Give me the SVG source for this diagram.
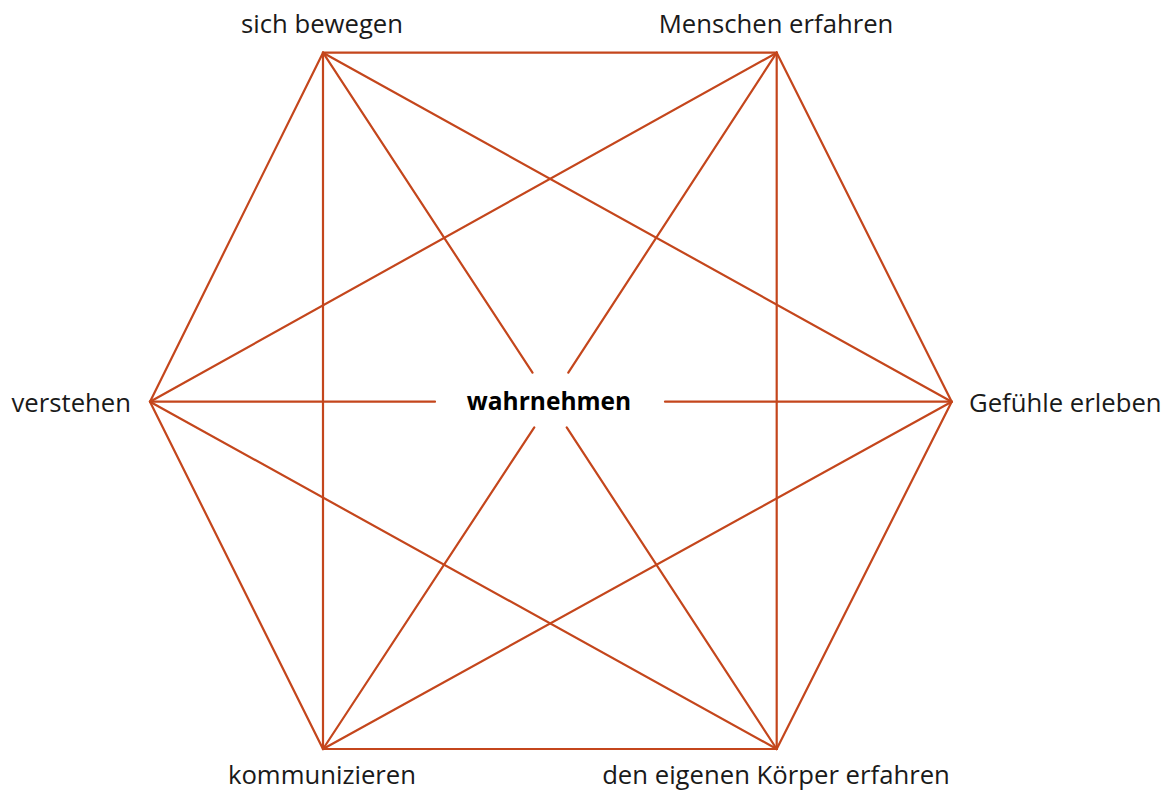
<svg xmlns="http://www.w3.org/2000/svg" width="1170" height="794" viewBox="0 0 1170 794">
<style>
.ln{stroke:#C4461C;stroke-width:2.2;fill:none;stroke-linecap:round}
.lb{font-family:"Open Sans","Liberation Sans",sans-serif;font-size:25.7px;fill:#1a1a1a}
.ctr{font-weight:bold;fill:#000;font-size:24.5px}
</style>
<rect width="1170" height="794" fill="#fff"/>
<g id="connectors">
<line class="ln" x1="323" y1="52.7" x2="776.7" y2="52.7"/>
<line class="ln" x1="776.7" y1="52.7" x2="951.7" y2="401.7"/>
<line class="ln" x1="951.7" y1="401.7" x2="776.7" y2="749"/>
<line class="ln" x1="776.7" y1="749" x2="323" y2="749"/>
<line class="ln" x1="323" y1="749" x2="150" y2="401.7"/>
<line class="ln" x1="150" y1="401.7" x2="323" y2="52.7"/>
<line class="ln" x1="323" y1="52.7" x2="323" y2="749"/>
<line class="ln" x1="776.7" y1="52.7" x2="776.7" y2="749"/>
<line class="ln" x1="323" y1="52.7" x2="951.7" y2="401.7"/>
<line class="ln" x1="776.7" y1="52.7" x2="150" y2="401.7"/>
<line class="ln" x1="150" y1="401.7" x2="776.7" y2="749"/>
<line class="ln" x1="951.7" y1="401.7" x2="323" y2="749"/>
<line class="ln" x1="150" y1="401.7" x2="435" y2="401.7"/>
<line class="ln" x1="665" y1="401.7" x2="951.7" y2="401.7"/>
<line class="ln" x1="323" y1="52.7" x2="532.5" y2="372.7"/>
<line class="ln" x1="776.7" y1="52.7" x2="568.3" y2="372.7"/>
<line class="ln" x1="323" y1="749" x2="534.3" y2="427.3"/>
<line class="ln" x1="776.7" y1="749" x2="566.7" y2="427.3"/>
</g>
<g id="node-sich-bewegen"><text class="lb" x="322" y="33" text-anchor="middle">sich bewegen</text></g>
<g id="node-menschen-erfahren"><text class="lb" x="776" y="33" text-anchor="middle">Menschen erfahren</text></g>
<g id="node-verstehen"><text class="lb" x="131" y="412" text-anchor="end">verstehen</text></g>
<g id="node-gefuehle-erleben"><text class="lb" x="969" y="412">Gefühle erleben</text></g>
<g id="node-kommunizieren"><text class="lb" x="322" y="784" text-anchor="middle">kommunizieren</text></g>
<g id="node-koerper-erfahren"><text class="lb" x="776" y="784" text-anchor="middle">den eigenen Körper erfahren</text></g>
<g id="node-wahrnehmen"><text class="lb ctr" x="549" y="410" text-anchor="middle">wahrnehmen</text></g>
</svg>
